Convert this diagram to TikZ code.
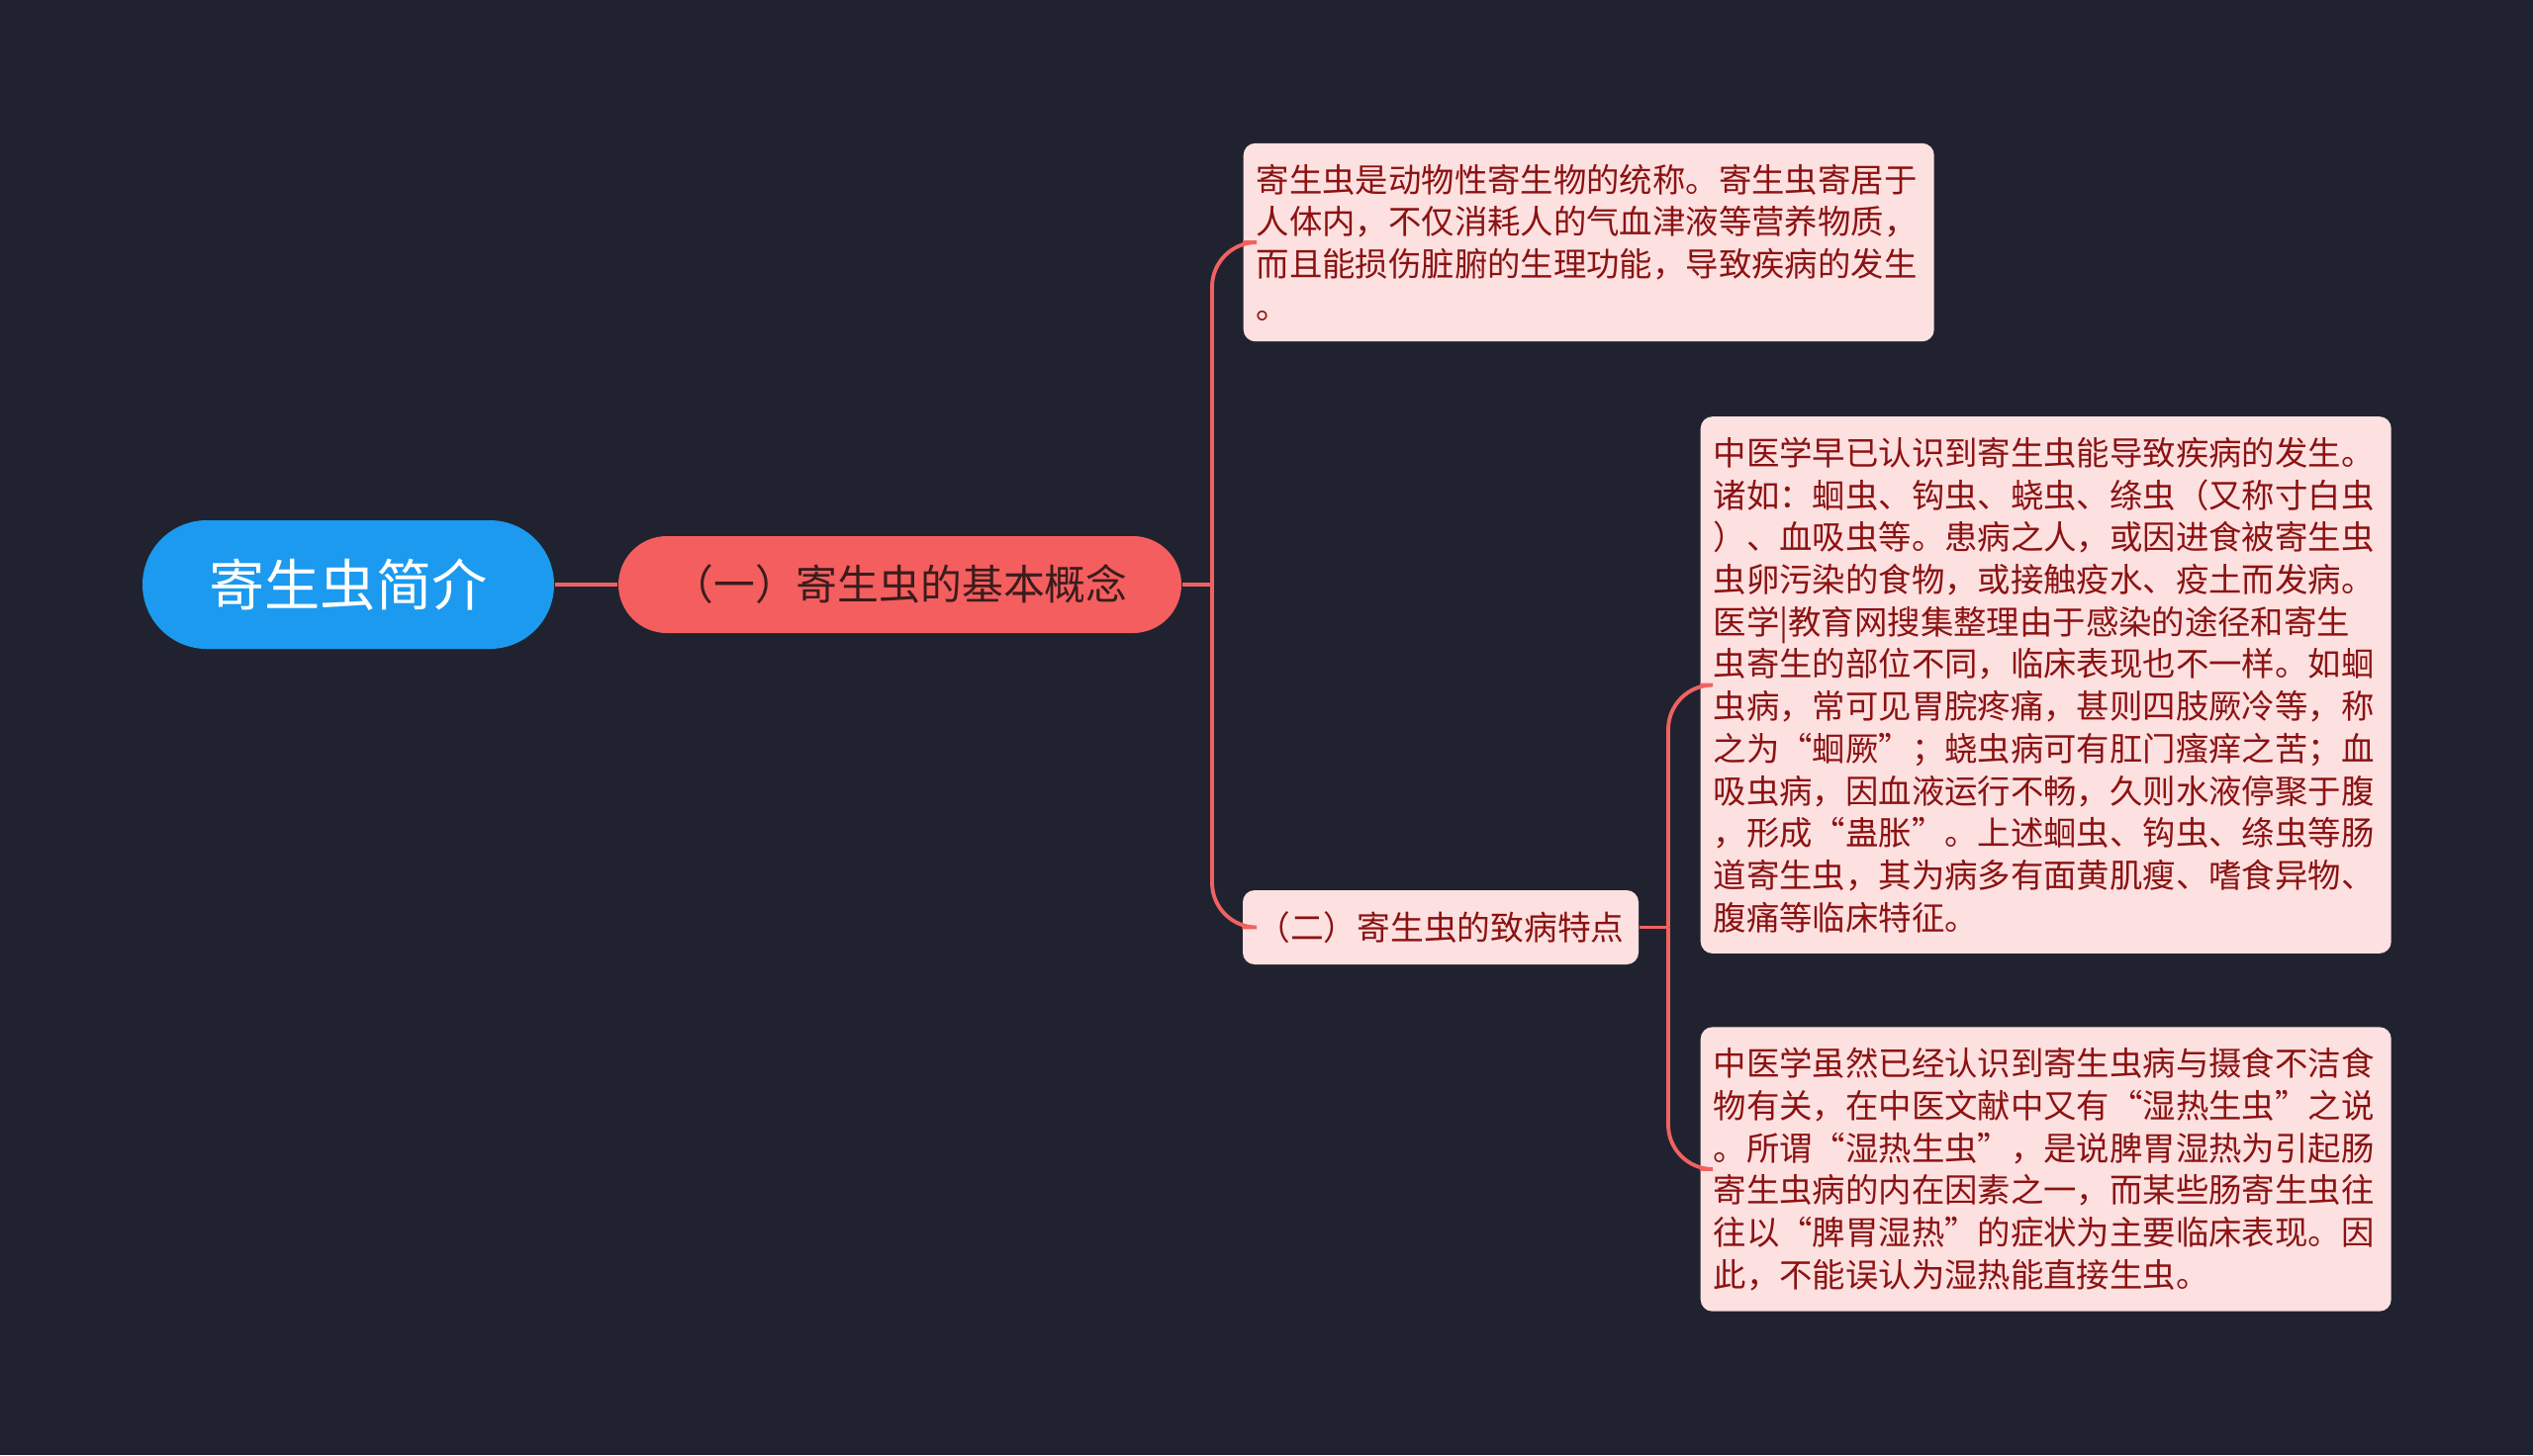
\documentclass[tikz,border=0pt]{standalone}
\usepackage{fontspec}
\newfontfamily\cjk{Noto Sans CJK SC}
\usetikzlibrary{positioning,calc}
\definecolor{bgdark}{RGB}{32,35,47}
\definecolor{rootblue}{RGB}{27,154,240}
\definecolor{topicred}{RGB}{244,94,94}
\definecolor{notepink}{RGB}{253,224,224}
\definecolor{notetext}{RGB}{139,18,18}
\definecolor{linkred}{RGB}{240,98,98}
\tikzset{
  rootbox/.style={fill=rootblue, text=white, rounded corners=0.65cm, minimum width=4.16cm, minimum height=1.30cm, inner sep=0pt, font=\cjk\fontsize{16}{19}\selectfont},
  topicbox/.style={fill=topicred, text={rgb,255:red,58;green,28;blue,28}, rounded corners=0.49cm, minimum width=5.69cm, minimum height=0.98cm, inner sep=0pt, font=\cjk\fontsize{11.9}{14}\selectfont},
  subbox/.style={fill=notepink, text=notetext, rounded corners=0.12cm, minimum width=4.0cm, minimum height=0.75cm, inner sep=0pt, font=\cjk\fontsize{9.6}{12}\selectfont},
  notebox/.style={fill=notepink, text=notetext, rounded corners=0.12cm, anchor=west, align=left, text width=6.72cm, inner xsep=0.13cm, inner ysep=0.21cm, font=\cjk\fontsize{9.5}{12.15}\selectfont},
  link/.style={draw=linkred, line width=1.1pt, rounded corners=0.45cm}
}
\begin{document}
\begin{tikzpicture}
\fill[bgdark] (0,0) rectangle (25.6,-14.71);
\useasboundingbox (0,0) rectangle (25.6,-14.71);

\node[rootbox] (root) at (3.52,-5.91) {寄生虫简介};
\node[topicbox] (basic) at (9.095,-5.91) {（一）寄生虫的基本概念};
\node[subbox] (feature) at (14.56,-9.375) {（二）寄生虫的致病特点};

\node[notebox] (define) at (12.56,-2.45) {寄生虫是动物性寄生物的统称。寄生虫寄居于\\人体内，不仅消耗人的气血津液等营养物质，\\而且能损伤脏腑的生理功能，导致疾病的发生\\。};
\node[notebox] (disease) at (17.18,-6.925) {中医学早已认识到寄生虫能导致疾病的发生。\\诸如：蛔虫、钩虫、蛲虫、绦虫（又称寸白虫\\）、血吸虫等。患病之人，或因进食被寄生虫\\虫卵污染的食物，或接触疫水、疫土而发病。\\医学|教育网搜集整理由于感染的途径和寄生\\虫寄生的部位不同，临床表现也不一样。如蛔\\虫病，常可见胃脘疼痛，甚则四肢厥冷等，称\\之为“蛔厥”；蛲虫病可有肛门瘙痒之苦；血\\吸虫病，因血液运行不畅，久则水液停聚于腹\\，形成“蛊胀”。上述蛔虫、钩虫、绦虫等肠\\道寄生虫，其为病多有面黄肌瘦、嗜食异物、\\腹痛等临床特征。};
\node[notebox] (dampheat) at (17.18,-11.82) {中医学虽然已经认识到寄生虫病与摄食不洁食\\物有关，在中医文献中又有“湿热生虫”之说\\。所谓“湿热生虫”，是说脾胃湿热为引起肠\\寄生虫病的内在因素之一，而某些肠寄生虫往\\往以“脾胃湿热”的症状为主要临床表现。因\\此，不能误认为湿热能直接生虫。};

\coordinate (fork1) at (12.25,-5.91);
\coordinate (fork2) at (16.86,-9.375);

\draw[link] (root) -- (basic);
\draw[link] (basic.east) -- (fork1);
\draw[link] (fork1) |- (define.west);
\draw[link] (fork1) |- (feature.west);
\draw[link] (feature.east) -- (fork2);
\draw[link] (fork2) |- (disease.west);
\draw[link] (fork2) |- (dampheat.west);
\end{tikzpicture}
\end{document}
